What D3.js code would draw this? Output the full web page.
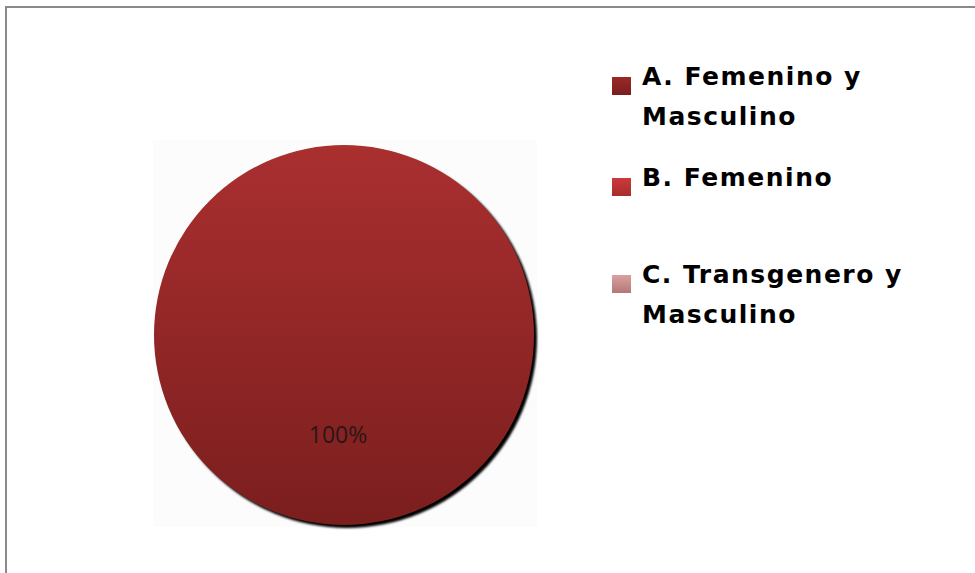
<!DOCTYPE html>
<html><head><meta charset="utf-8">
<script src="https://cdn.jsdelivr.net/npm/d3@7"></script>
<style>html,body{margin:0;padding:0;background:#fff;}svg{display:block;}</style>
</head><body>
<script>
const categories = ["A. Femenino y Masculino", "B. Femenino", "C. Transgenero y Masculino"];
const legendLines = [["A. Femenino y", "Masculino"], ["B. Femenino"], ["C. Transgenero y", "Masculino"]];
const values = [100, 0, 0];
const colorsTop = ["#9a2828", "#cc3a3a", "#dba0a0"];
const colorsBottom = ["#7a1e1e", "#a82c2c", "#b27878"];

const W = 975, H = 573;
const svg = d3.select("body").append("svg").attr("width", W).attr("height", H);
const defs = svg.append("defs");

// frame
svg.append("rect").attr("x", 6).attr("y", 7).attr("width", W).attr("height", H)
  .attr("fill", "none").attr("stroke", "#8a8a8a").attr("stroke-width", 2);

// faint image-area background
svg.append("rect").attr("x", 153).attr("y", 140).attr("width", 384).attr("height", 387).attr("fill", "#fcfcfc");

const cx = 344, cy = 335, r = 190;
const pieGrad = defs.append("linearGradient").attr("id", "pieGrad")
  .attr("gradientUnits", "userSpaceOnUse").attr("x1", 0).attr("y1", -r).attr("x2", 0).attr("y2", r);
pieGrad.append("stop").attr("offset", "0").attr("stop-color", "#aa2f2f");
pieGrad.append("stop").attr("offset", "1").attr("stop-color", "#7b1e1e");

const blur = defs.append("filter").attr("id", "sh").attr("x", "-10%").attr("y", "-10%").attr("width", "120%").attr("height", "120%");
blur.append("feGaussianBlur").attr("stdDeviation", 0.8);

const pie = d3.pie().sort(null)(values);
const arc = d3.arc().innerRadius(0).outerRadius(r);
const g = svg.append("g").attr("transform", `translate(${cx},${cy})`);

// shadow
g.selectAll("path.shadow").data(pie.filter(d => d.value > 0)).join("path")
  .attr("class", "shadow").attr("d", arc).attr("transform", "translate(3,3)")
  .attr("fill", "#000").attr("filter", "url(#sh)");
g.selectAll("path.slice").data(pie.filter(d => d.value > 0)).join("path")
  .attr("class", "slice").attr("d", arc).attr("fill", "url(#pieGrad)");

const total = d3.sum(values);
const full = d => d.endAngle - d.startAngle >= 2 * Math.PI - 1e-6;
g.selectAll("text.lbl").data(pie.filter(d => d.value > 0)).join("text")
  .attr("class", "lbl")
  .attr("x", d => full(d) ? -6 : arc.centroid(d)[0])
  .attr("y", d => full(d) ? 108 : arc.centroid(d)[1])
  .attr("text-anchor", "middle")
  .attr("font-family", "'Open Sans', 'Liberation Sans', sans-serif")
  .attr("font-size", 23).attr("fill", "#2a1616")
  .text(d => Math.round(d.value / total * 100) + "%");

// legend
const legendY = [85, 186, 283];
categories.forEach((c, i) => {
  const gr = defs.append("linearGradient").attr("id", "lg" + i).attr("x1", 0).attr("y1", 0).attr("x2", 0).attr("y2", 1);
  gr.append("stop").attr("offset", "0").attr("stop-color", colorsTop[i]);
  gr.append("stop").attr("offset", "1").attr("stop-color", colorsBottom[i]);
  const lg = svg.append("g");
  lg.append("rect").attr("x", 612).attr("y", legendY[i] - 8).attr("width", 19).attr("height", 18)
    .attr("fill", `url(#lg${i})`);
  const t = lg.append("text").attr("x", 642).attr("y", legendY[i])
    .attr("font-family", "'DejaVu Sans', 'Liberation Sans', sans-serif").attr("font-weight", "bold")
    .attr("font-size", 25).attr("letter-spacing", 1.5).attr("fill", "#000");
  legendLines[i].forEach((ln, j) => {
    t.append("tspan").attr("x", 642).attr("y", legendY[i] + j * 40).text(ln);
  });
});
</script>
</body></html>
